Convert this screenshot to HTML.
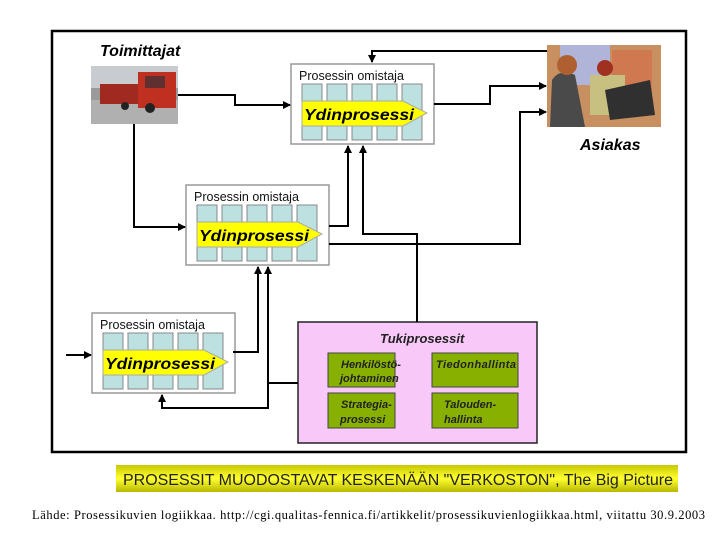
<!DOCTYPE html>
<html><head><meta charset="utf-8"><style>
html,body{margin:0;padding:0;background:#fff;width:720px;height:540px;overflow:hidden}
svg{display:block}
</style></head><body>
<svg width="720" height="540" viewBox="0 0 720 540" xmlns="http://www.w3.org/2000/svg">
<defs>
<marker id="ah" markerWidth="8" markerHeight="8" refX="7" refY="4" orient="auto" markerUnits="userSpaceOnUse"><path d="M0,0 L8,4 L0,8 z" fill="#000"/></marker>
<linearGradient id="yb" x1="0" y1="0" x2="0" y2="1"><stop offset="0" stop-color="#c8c800"/><stop offset="0.5" stop-color="#ffff30"/><stop offset="1" stop-color="#b8b800"/></linearGradient>
<g id="proc">
<rect x="0" y="0" width="143" height="80" fill="#fff" stroke="#999" stroke-width="1.5"/>
<text x="8" y="16" font-family="Liberation Sans, sans-serif" font-size="12.5" fill="#111">Prosessin omistaja</text>
<rect x="11" y="20" width="20" height="56" fill="#bde0e0" stroke="#888"/>
<rect x="36" y="20" width="20" height="56" fill="#bde0e0" stroke="#888"/>
<rect x="61" y="20" width="20" height="56" fill="#bde0e0" stroke="#888"/>
<rect x="86" y="20" width="20" height="56" fill="#bde0e0" stroke="#888"/>
<rect x="111" y="20" width="20" height="56" fill="#bde0e0" stroke="#888"/>
<path d="M11,37 L112,37 L136,49 L112,62 L11,62 z" fill="#ffff00" stroke="#aaa"/>
<text x="13" y="56" font-family="Liberation Sans, sans-serif" font-size="16" font-weight="bold" font-style="italic" fill="#000" textLength="110" lengthAdjust="spacingAndGlyphs">Ydinprosessi</text>
</g>
</defs>
<rect x="52" y="31" width="634" height="421" fill="#fff" stroke="#000" stroke-width="2.5"/>
<text x="100" y="56" font-family="Liberation Sans, sans-serif" font-size="16" font-weight="bold" font-style="italic">Toimittajat</text>
<rect x="91" y="66" width="87" height="58" fill="#9a9a9a"/>
<rect x="91" y="66" width="87" height="22" fill="#c8ccd0"/>
<rect x="91" y="100" width="87" height="24" fill="#b0b0b0"/>
<rect x="100" y="84" width="40" height="20" fill="#a02a20"/>
<rect x="138" y="72" width="38" height="36" fill="#c03020"/>
<rect x="145" y="76" width="20" height="12" fill="#603030"/>
<circle cx="150" cy="108" r="5" fill="#222"/><circle cx="125" cy="106" r="4" fill="#222"/>
<rect x="547" y="45" width="114" height="82" fill="#c89060"/>
<rect x="560" y="45" width="50" height="40" fill="#b0b4d8"/>
<rect x="612" y="50" width="40" height="40" fill="#d07850"/>
<path d="M550,127 L552,80 Q560,68 575,75 L585,127 z" fill="#4a4a4a"/>
<circle cx="567" cy="65" r="10" fill="#b06030"/>
<rect x="590" y="75" width="35" height="40" fill="#c8c080"/>
<circle cx="605" cy="68" r="8" fill="#a03020"/>
<path d="M605,90 L650,80 L655,115 L610,120 z" fill="#303030"/>
<text x="580" y="150" font-family="Liberation Sans, sans-serif" font-size="16" font-weight="bold" font-style="italic">Asiakas</text>
<use href="#proc" x="291" y="64"/>
<use href="#proc" x="186" y="185"/>
<use href="#proc" x="92" y="313"/>
<rect x="298" y="322" width="239" height="121" fill="#f8c8f8" stroke="#222" stroke-width="1.5"/>
<text x="380" y="343" font-family="Liberation Sans, sans-serif" font-size="13" font-weight="bold" font-style="italic" fill="#222">Tukiprosessit</text>
<g font-family="Liberation Sans, sans-serif" font-size="11" font-weight="bold" font-style="italic" fill="#222">
<rect x="328" y="353" width="67" height="34" fill="#88b000" stroke="#444"/>
<text x="341" y="368">Henkilöstö-</text><text x="340" y="382">johtaminen</text>
<rect x="432" y="353" width="86" height="34" fill="#88b000" stroke="#444"/>
<text x="436" y="368" textLength="80">Tiedonhallinta</text>
<rect x="328" y="393" width="67" height="35" fill="#88b000" stroke="#444"/>
<text x="341" y="408">Strategia-</text><text x="340" y="423">prosessi</text>
<rect x="432" y="393" width="86" height="35" fill="#88b000" stroke="#444"/>
<text x="444" y="408">Talouden-</text><text x="444" y="423">hallinta</text>
</g>
<g fill="none" stroke="#000" stroke-width="2">
<polyline points="178,95 235,95 235,105 290,105" marker-end="url(#ah)"/>
<polyline points="134,124 134,227 185,227" marker-end="url(#ah)"/>
<polyline points="329,226 348,226 348,146" marker-end="url(#ah)"/>
<polyline points="417,322 417,234 363,234 363,146" marker-end="url(#ah)"/>
<polyline points="329,244 520,244 520,112 546,112" marker-end="url(#ah)"/>
<polyline points="434,104 490,104 490,86 546,86" marker-end="url(#ah)"/>
<polyline points="547,51 372,51 372,62" marker-end="url(#ah)"/>
<polyline points="66,355 91,355" marker-end="url(#ah)"/>
<polyline points="233,352 258,352 258,267" marker-end="url(#ah)"/>
<polyline points="298,383 268,383 268,267" marker-end="url(#ah)"/>
<polyline points="268,383 268,408 162,408 162,395" marker-end="url(#ah)"/>
</g>
<rect x="116" y="465" width="562" height="27" fill="url(#yb)"/>
<text x="123" y="485" font-family="Liberation Sans, sans-serif" font-size="15.5" fill="#222" textLength="550" lengthAdjust="spacingAndGlyphs">PROSESSIT MUODOSTAVAT KESKENÄÄN "VERKOSTON", The Big Picture</text>
<text x="32" y="519" font-family="Liberation Serif, serif" font-size="12.5" fill="#000" textLength="673">Lähde: Prosessikuvien logiikkaa. http://cgi.qualitas-fennica.fi/artikkelit/prosessikuvienlogiikkaa.html, viitattu 30.9.2003</text>
</svg>
</body></html>
